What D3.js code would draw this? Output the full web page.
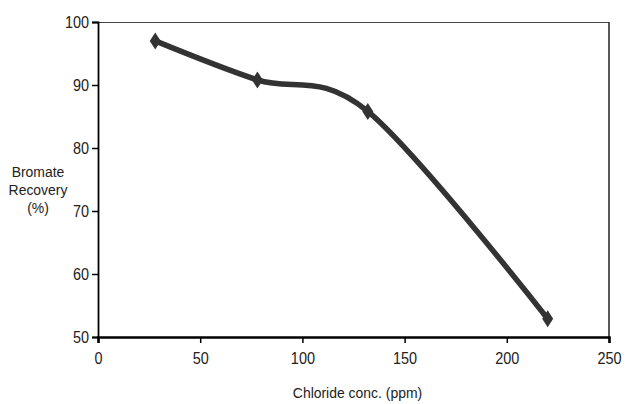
<!DOCTYPE html>
<html lang="en">

<head>
  <meta charset="UTF-8">
  <title>Bromate Recovery vs Chloride</title>
  <script src="https://d3js.org/d3.v7.min.js"></script>
  <style>
    body { margin: 0; background: #fff; }
    text { font-family: "Liberation Sans", Arial, sans-serif; fill: #222; }
  </style>
</head>

<body>

  <script>
    // data
    const chloride = [28, 78, 132, 220];
    const recovery = [97, 90.8, 85.8, 52.9];
    const xTicks = [0, 50, 100, 150, 200, 250];
    const yTicks = [50, 60, 70, 80, 90, 100];

    const width = 627;
    const height = 404;
    const margin = { top: 22, right: 18, bottom: 67, left: 98 };
    const w = width - margin.left - margin.right;
    const h = height - margin.top - margin.bottom;

    // narrow look: squeeze text horizontally
    const sq = 0.85;
    const sqTitle = 0.9;

    const svg = d3.select('body')
      .append('svg')
      .attr('width', width)
      .attr('height', height);

    const g = svg.append('g')
      .attr('transform', `translate(${margin.left},${margin.top})`);

    const x = d3.scaleLinear().domain([0, 250]).range([0, w]);
    const y = d3.scaleLinear().domain([50, 100]).range([h, 0]);

    // frame top / right
    g.append('line').attr('x1', 0).attr('x2', w).attr('y1', 0.5).attr('y2', 0.5)
      .attr('stroke', '#444').attr('stroke-width', 1.2);
    g.append('line').attr('x1', w).attr('x2', w).attr('y1', 0).attr('y2', h)
      .attr('stroke', '#222').attr('stroke-width', 1.5);

    // axes
    const xAxis = g.append('g')
      .attr('transform', `translate(0,${h})`)
      .call(d3.axisBottom(x).tickValues(xTicks).tickSize(6).tickPadding(9));
    xAxis.select('.domain').attr('stroke', '#000').attr('stroke-width', 2.5);
    xAxis.selectAll('.tick line').attr('stroke', '#000').attr('stroke-width', 1.5);
    xAxis.selectAll('text')
      .attr('font-size', 17)
      .attr('font-family', '"Liberation Sans", Arial, sans-serif')
      .attr('transform', `scale(${sq},1)`)
      .style('fill', '#222');

    const yAxis = g.append('g')
      .call(d3.axisLeft(y).tickValues(yTicks).tickSize(6).tickPadding(3));
    yAxis.select('.domain').attr('stroke', '#000').attr('stroke-width', 1.8);
    yAxis.selectAll('.tick line').attr('stroke', '#000').attr('stroke-width', 1.5);
    yAxis.selectAll('text')
      .attr('font-size', 17)
      .attr('font-family', '"Liberation Sans", Arial, sans-serif')
      .attr('x', -9 / sq)
      .attr('transform', `scale(${sq},1)`)
      .style('fill', '#222');

    // smoothed line
    const pts = chloride.map((c, i) => [c, recovery[i]]);
    const line = d3.line()
      .x(d => x(d[0]))
      .y(d => y(d[1]))
      .curve(d3.curveCatmullRom.alpha(0));

    g.append('path')
      .datum(pts)
      .attr('d', line)
      .attr('fill', 'none')
      .attr('stroke', '#333')
      .attr('stroke-width', 5.5)
      .attr('stroke-linejoin', 'round');

    // diamond markers
    g.selectAll('path.marker')
      .data(pts)
      .enter()
      .append('path')
      .attr('class', 'marker')
      .attr('d', 'M0,-8.5L5.5,0L0,8.5L-5.5,0Z')
      .attr('transform', d => `translate(${x(d[0])},${y(d[1])})`)
      .attr('fill', '#333');

    // axis titles
    svg.append('text')
      .attr('transform', `translate(${margin.left + w / 2 + 4},398) scale(${sqTitle},1)`)
      .attr('text-anchor', 'middle')
      .attr('font-size', 15.5)
      .text('Chloride conc. (ppm)');

    const yTitle = svg.append('text')
      .attr('transform', `translate(38,0) scale(${sqTitle},1)`)
      .attr('text-anchor', 'middle')
      .attr('font-size', 15.5);
    ['Bromate', 'Recovery', '(%)'].forEach((t, i) => {
      yTitle.append('tspan').attr('x', 0).attr('y', 177 + i * 18).text(t);
    });
  </script>

</body>

</html>
